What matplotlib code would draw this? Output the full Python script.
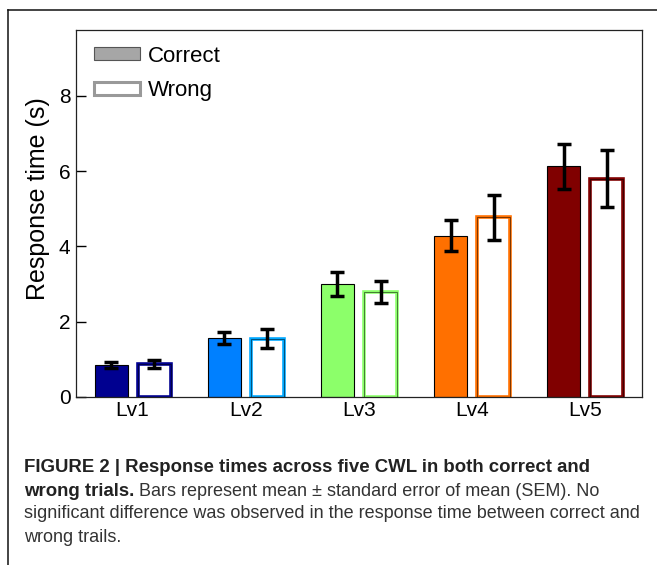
import matplotlib
matplotlib.use("Agg")
import matplotlib.pyplot as plt
import numpy as np
from matplotlib.patches import Patch
from matplotlib.lines import Line2D

plt.rcParams['font.family'] = ['Liberation Sans', 'DejaVu Sans']

levels = ["Lv1", "Lv2", "Lv3", "Lv4", "Lv5"]
correct_mean = [0.85, 1.56, 3.00, 4.28, 6.13]
correct_sem = [0.08, 0.16, 0.32, 0.41, 0.60]
wrong_mean = [0.87, 1.55, 2.78, 4.77, 5.80]
wrong_sem = [0.10, 0.25, 0.29, 0.59, 0.75]
colors = ["#000090", "#0080FF", "#8CFF6A", "#FF7000", "#800000"]
edge_colors = ["#000090", "#00A8FF", "#8CFF6A", "#FF7000", "#800000"]
yticks = [0, 2, 4, 6, 8]

fig = plt.figure(figsize=(6.57, 5.65), dpi=100)
ax = fig.add_axes([76/657, 1-397/565, (642-76)/657, (397-30)/565])

x = np.arange(1, len(levels)+1)
w = 0.29
off = 0.19

ax.bar(x-off, correct_mean, width=w, color=colors, edgecolor='black', linewidth=0.8, zorder=2)
ax.bar(x+off, wrong_mean, width=w, color='white', edgecolor=edge_colors, linewidth=2.6, zorder=2)
ax.bar(x+off, wrong_mean, width=w, fill=False, edgecolor='black', linewidth=0.6, zorder=3, alpha=0.6)

ax.errorbar(x-off, correct_mean, yerr=correct_sem, fmt='none', ecolor='black',
            elinewidth=2.5, capsize=4.8, capthick=2.5, zorder=4)
ax.errorbar(x+off, wrong_mean, yerr=wrong_sem, fmt='none', ecolor='black',
            elinewidth=2.5, capsize=4.8, capthick=2.5, zorder=4)

ax.set_xlim(0.5, 5.5)
ax.set_ylim(0, 9.75)
ax.set_xticks(x)
ax.set_xticklabels(levels)
ax.set_yticks(yticks)
ax.tick_params(axis='y', direction='in', length=7, width=1, labelsize=15, pad=4)
ax.tick_params(axis='x', length=0, labelsize=15, pad=3)
for s in ax.spines.values():
    s.set_linewidth(0.9)
    s.set_color('#222222')
ax.set_ylabel("Response time (s)", fontsize=18, labelpad=6)
ax.yaxis.label.set_y(0.54)

handles = [Patch(facecolor='#A6A6A6', edgecolor='#555555', linewidth=0.8, label='Correct'),
           Patch(facecolor='white', edgecolor='#999999', linewidth=2.2, label='Wrong')]
ax.legend(handles=handles, loc='upper left', bbox_to_anchor=(-0.003, 1.012), frameon=False,
          fontsize=16, handlelength=2.05, handleheight=0.5, handletextpad=0.35, labelspacing=0.62)

# outer frame
fig.add_artist(Line2D([8/657, 1], [1-10/565, 1-10/565], color='#111111', linewidth=1.1, transform=fig.transFigure))
fig.add_artist(Line2D([8/657, 8/657], [0, 1-10/565], color='#111111', linewidth=1.1, transform=fig.transFigure))

# caption
bfs = 13.4
cfs = 13.0
t1 = fig.text(24/657, 1-468/565, "FIGURE 2 | Response times across five CWL in both correct and",
              fontsize=bfs, fontweight='bold', color='#222222', va='center', ha='left')
t2 = fig.text(24/657, 1-491/565, "wrong trials.", fontsize=bfs, fontweight='bold',
              color='#222222', va='center', ha='left')
fig.canvas.draw()
t2b = ax.annotate(" Bars represent mean \u00b1 standard error of mean (SEM). No", xy=(1, 0), xycoords=t2,
                  fontsize=cfs, color='#333333', va='bottom', ha='left', annotation_clip=False)
fig.text(24/657, 1-514/565, "significant difference was observed in the response time between correct and",
         fontsize=cfs, color='#333333', va='center', ha='left')
fig.text(24/657, 1-537/565, "wrong trails.", fontsize=cfs, color='#333333', va='center', ha='left')

fig.savefig("out.png", dpi=100)
